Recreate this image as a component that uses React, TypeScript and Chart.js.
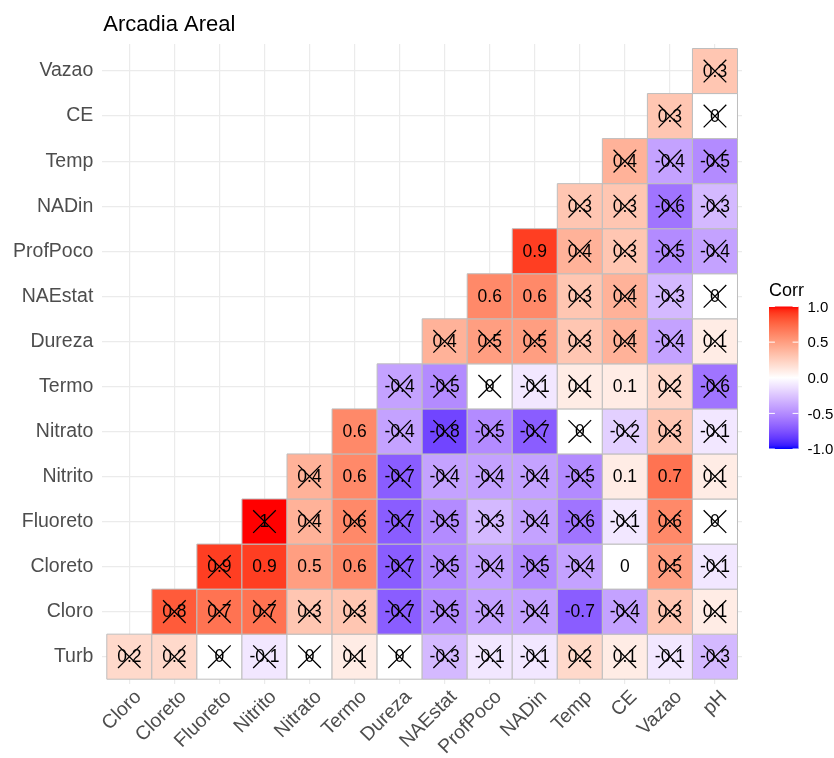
import React, { useEffect, useRef } from "react";
import { Chart, registerables } from "chart.js";

Chart.register(...registerables);

// ---- Data ----
const chartTitle = "Arcadia Areal";
const legendTitle = "Corr";
const xVars = ["Cloro", "Cloreto", "Fluoreto", "Nitrito", "Nitrato", "Termo", "Dureza", "NAEstat", "ProfPoco", "NADin", "Temp", "CE", "Vazao", "pH"];
const yVars = ["Turb", "Cloro", "Cloreto", "Fluoreto", "Nitrito", "Nitrato", "Termo", "Dureza", "NAEstat", "ProfPoco", "NADin", "Temp", "CE", "Vazao"];
const legendTicks = [1.0, 0.5, 0.0, -0.5, -1.0];

// Each row starts at the column with the same index as the row (lower triangle)
const corrTurb = [0.2, 0.2, 0, -0.1, 0, 0.1, 0, -0.3, -0.1, -0.1, 0.2, 0.1, -0.1, -0.3];
const corrCloro = [0.8, 0.7, 0.7, 0.3, 0.3, -0.7, -0.5, -0.4, -0.4, -0.7, -0.4, 0.3, 0.1];
const corrCloreto = [0.9, 0.9, 0.5, 0.6, -0.7, -0.5, -0.4, -0.5, -0.4, 0, 0.5, -0.1];
const corrFluoreto = [1, 0.4, 0.6, -0.7, -0.5, -0.3, -0.4, -0.6, -0.1, 0.6, 0];
const corrNitrito = [0.4, 0.6, -0.7, -0.4, -0.4, -0.4, -0.5, 0.1, 0.7, 0.1];
const corrNitrato = [0.6, -0.4, -0.8, -0.5, -0.7, 0, -0.2, 0.3, -0.1];
const corrTermo = [-0.4, -0.5, 0, -0.1, 0.1, 0.1, 0.2, -0.6];
const corrDureza = [0.4, 0.5, 0.5, 0.3, 0.4, -0.4, 0.1];
const corrNAEstat = [0.6, 0.6, 0.3, 0.4, -0.3, 0];
const corrProfPoco = [0.9, 0.4, 0.3, -0.5, -0.4];
const corrNADin = [0.3, 0.3, -0.6, -0.3];
const corrTemp = [0.4, -0.4, -0.5];
const corrCE = [0.3, 0];
const corrVazao = [0.3];

// 1 = significant (no cross), 0 = not significant (crossed)
const sigTurb = [0, 0, 0, 0, 0, 0, 0, 0, 0, 0, 0, 0, 0, 0];
const sigCloro = [0, 0, 0, 0, 0, 0, 0, 0, 0, 1, 0, 0, 0];
const sigCloreto = [0, 1, 1, 1, 0, 0, 0, 0, 0, 1, 0, 0];
const sigFluoreto = [0, 0, 0, 0, 0, 0, 0, 0, 0, 0, 0];
const sigNitrito = [0, 1, 0, 0, 0, 0, 0, 1, 1, 0];
const sigNitrato = [1, 0, 0, 0, 0, 0, 0, 0, 0];
const sigTermo = [0, 0, 0, 0, 0, 1, 0, 0];
const sigDureza = [0, 0, 0, 0, 0, 0, 0];
const sigNAEstat = [1, 1, 0, 0, 0, 0];
const sigProfPoco = [1, 0, 0, 0, 0];
const sigNADin = [0, 0, 0, 0];
const sigTemp = [0, 0, 0];
const sigCE = [0, 0];
const sigVazao = [0];

const rowValues = [corrTurb, corrCloro, corrCloreto, corrFluoreto, corrNitrito, corrNitrato, corrTermo, corrDureza, corrNAEstat, corrProfPoco, corrNADin, corrTemp, corrCE, corrVazao];
const rowSig = [sigTurb, sigCloro, sigCloreto, sigFluoreto, sigNitrito, sigNitrato, sigTermo, sigDureza, sigNAEstat, sigProfPoco, sigNADin, sigTemp, sigCE, sigVazao];

// ---- Colour (gradient2 blue-white-red in CIELAB) ----
function toLin(c: number) { c /= 255; return c <= 0.04045 ? c / 12.92 : Math.pow((c + 0.055) / 1.055, 2.4); }
function fromLin(c: number) { const v = c <= 0.0031308 ? 12.92 * c : 1.055 * Math.pow(c, 1 / 2.4) - 0.055; return Math.round(Math.max(0, Math.min(1, v)) * 255); }
const Xn = 0.95047, Yn = 1, Zn = 1.08883;
function f(t: number) { return t > 0.008856 ? Math.cbrt(t) : 7.787 * t + 16 / 116; }
function fi(t: number) { return t > 0.206893 ? t * t * t : (t - 16 / 116) / 7.787; }
function rgbToLab(rgb: number[]) {
  const R = toLin(rgb[0]), G = toLin(rgb[1]), B = toLin(rgb[2]);
  const X = 0.4124564 * R + 0.3575761 * G + 0.1804375 * B;
  const Y = 0.2126729 * R + 0.7151522 * G + 0.072175 * B;
  const Z = 0.0193339 * R + 0.119192 * G + 0.9503041 * B;
  const fx = f(X / Xn), fy = f(Y / Yn), fz = f(Z / Zn);
  return [116 * fy - 16, 500 * (fx - fy), 200 * (fy - fz)];
}
function labToRgb(lab: number[]) {
  const fy = (lab[0] + 16) / 116, fx = fy + lab[1] / 500, fz = fy - lab[2] / 200;
  const X = fi(fx) * Xn, Y = fi(fy) * Yn, Z = fi(fz) * Zn;
  const R = 3.2404542 * X - 1.5371385 * Y - 0.4985314 * Z;
  const G = -0.969266 * X + 1.8760108 * Y + 0.041556 * Z;
  const B = 0.0556434 * X - 0.2040259 * Y + 1.0572252 * Z;
  return [fromLin(R), fromLin(G), fromLin(B)];
}
const labWhite = rgbToLab([255, 255, 255]);
const labRed = rgbToLab([255, 0, 0]);
const labBlue = rgbToLab([0, 0, 255]);
function corrColor(v: number) {
  const t = Math.min(1, Math.abs(v));
  const end = v >= 0 ? labRed : labBlue;
  const lab = [0, 1, 2].map((k) => labWhite[k] + (end[k] - labWhite[k]) * t);
  const c = labToRgb(lab);
  return `rgb(${c[0]},${c[1]},${c[2]})`;
}

function fmt(v: number) { return String(Math.round(v * 10) / 10 === 0 ? 0 : v); }

type Cell = { x: number; y: number; v: number };
const cells: Cell[] = [];
const crosses: Cell[] = [];
rowValues.forEach((row, r) => {
  row.forEach((v, k) => {
    const c = { x: r + k, y: r, v };
    cells.push(c);
    if (!rowSig[r][k]) crosses.push(c);
  });
});

const FONT = '"Liberation Sans", Arial, Helvetica, sans-serif';

const labelPlugin = {
  id: "cellLabels",
  afterDatasetDraw(chart: any, args: any) {
    if (args.index !== 0) return;
    const ctx = chart.ctx;
    const meta = chart.getDatasetMeta(0);
    ctx.save();
    ctx.font = `17.5px ${FONT}`;
    ctx.fillStyle = "#000";
    ctx.textAlign = "center";
    ctx.textBaseline = "middle";
    meta.data.forEach((el: any, i: number) => {
      const d = chart.data.datasets[0].data[i] as Cell;
      ctx.fillText(fmt(d.v), el.x, el.y + 1);
    });
    ctx.restore();
  },
};

const decorPlugin = {
  id: "decor",
  afterDraw(chart: any) {
    const ctx = chart.ctx;
    const area = chart.chartArea;
    ctx.save();
    // title
    ctx.font = `22px ${FONT}`;
    ctx.fillStyle = "#000";
    ctx.textAlign = "left";
    ctx.textBaseline = "alphabetic";
    ctx.fillText(chartTitle, area.left + 1, 31);

    // colour bar legend
    const bx = area.right + 27, bw = 29.5, by = 306.5, bh = 142.5;
    ctx.font = `18px ${FONT}`;
    ctx.fillText(legendTitle, bx, 296);
    const grad = ctx.createLinearGradient(0, by, 0, by + bh);
    const n = 40;
    for (let i = 0; i <= n; i++) {
      const t = i / n;
      grad.addColorStop(t, corrColor(1 - 2 * t));
    }
    ctx.fillStyle = grad;
    ctx.fillRect(bx, by, bw, bh);
    ctx.font = `15px ${FONT}`;
    ctx.textBaseline = "middle";
    legendTicks.forEach((v) => {
      const y = by + ((1 - v) / 2) * bh;
      ctx.strokeStyle = "#FFFFFF";
      ctx.lineWidth = 1;
      ctx.beginPath();
      ctx.moveTo(bx, y); ctx.lineTo(bx + bw / 5, y);
      ctx.moveTo(bx + bw - bw / 5, y); ctx.lineTo(bx + bw, y);
      ctx.stroke();
      ctx.fillStyle = "#000";
      ctx.fillText(v.toFixed(1), bx + bw + 9, y + 1);
    });
    ctx.restore();
  },
};

function unitRadius(ctx: any) {
  const s = ctx.chart.scales.x;
  if (!s) return 30;
  const w = Math.abs(s.getPixelForValue(1) - s.getPixelForValue(0));
  return w / Math.SQRT2;
}

export default function App() {
  const ref = useRef<HTMLCanvasElement>(null);
  useEffect(() => {
    const chart = new Chart(ref.current as HTMLCanvasElement, {
      type: "scatter",
      data: {
        datasets: [
          {
            data: cells as any,
            order: 2,
            pointStyle: "rect",
            radius: unitRadius as any,
            hoverRadius: unitRadius as any,
            backgroundColor: cells.map((c) => corrColor(c.v)),
            borderColor: "#BEBEBE",
            borderWidth: 1,
            hoverBorderWidth: 1,
          },
          {
            data: crosses as any,
            order: 1,
            pointStyle: "crossRot",
            radius: 16,
            hoverRadius: 16,
            borderColor: "#000000",
            borderWidth: 1.3,
            hoverBorderWidth: 1.3,
            backgroundColor: "#000000",
          },
        ],
      },
      options: {
        animation: false,
        responsive: false,
        events: [],
        layout: { padding: { top: 44, right: 92, left: 0, bottom: 0 } },
        plugins: { legend: { display: false }, tooltip: { enabled: false }, title: { display: false } },
        scales: {
          x: {
            type: "linear",
            min: -0.6,
            max: 13.6,
            afterBuildTicks: (s: any) => { s.ticks = xVars.map((_, i) => ({ value: i })); },
            afterFit: (s: any) => { s.height = 74.3; },
            ticks: {
              autoSkip: false,
              maxRotation: 45,
              minRotation: 45,
              padding: 2,
              labelOffset: 9,
              color: "#4D4D4D",
              font: { family: FONT, size: 19.5 },
              callback: (v: any) => xVars[v as number] ?? "",
            },
            grid: { color: "#EBEBEB", lineWidth: 1.2, drawTicks: false },
            border: { display: false },
          },
          y: {
            type: "linear",
            min: -0.6,
            max: 13.6,
            afterBuildTicks: (s: any) => { s.ticks = yVars.map((_, i) => ({ value: i })); },
            afterFit: (s: any) => { s.width = 102.3; },
            ticks: {
              autoSkip: false,
              padding: 9,
              color: "#4D4D4D",
              font: { family: FONT, size: 19.5 },
              callback: (v: any) => yVars[v as number] ?? "",
            },
            grid: { color: "#EBEBEB", lineWidth: 1.2, drawTicks: false },
            border: { display: false },
          },
        },
      },
      plugins: [labelPlugin, decorPlugin],
    } as any);
    return () => chart.destroy();
  }, []);
  return (
    <div style={{ position: "absolute", left: 0, top: 0, width: 834, height: 758, background: "#FFFFFF" }}>
      <canvas ref={ref} width={834} height={758} style={{ display: "block" }} />
    </div>
  );
}
